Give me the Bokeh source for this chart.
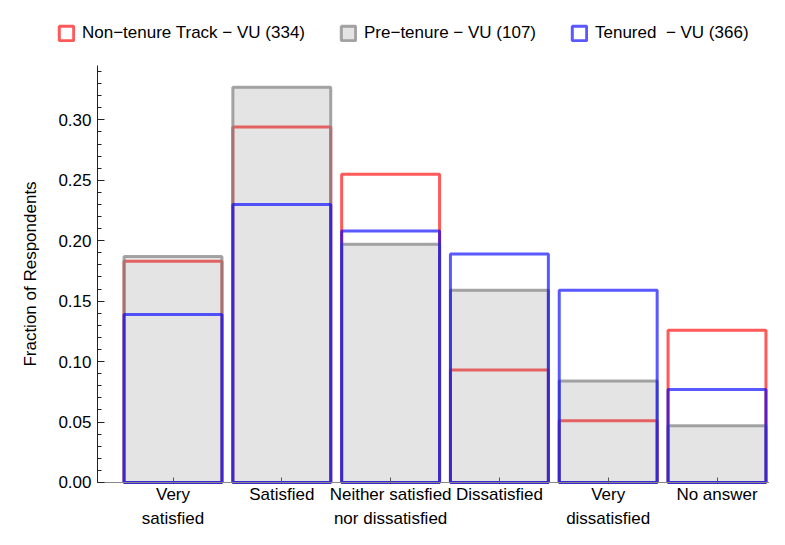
from bokeh.plotting import figure
from bokeh.models import (Range1d, Legend, LegendItem, FixedTicker,
                          NumeralTickFormatter, ColumnDataSource)
from bokeh.embed import file_html
from bokeh.resources import INLINE

categories = ["Very\nsatisfied", "Satisfied", "Neither satisfied\nnor dissatisfied",
              "Dissatisfied", "Very\ndissatisfied", "No answer"]
non_tenure = [0.183, 0.294, 0.255, 0.093, 0.051, 0.126]
pre_tenure = [0.187, 0.327, 0.197, 0.159, 0.084, 0.047]
tenured = [0.139, 0.230, 0.208, 0.189, 0.159, 0.077]
series_names = ["Non\u2212tenure Track \u2212 VU (334)",
                "Pre\u2212tenure \u2212 VU (107)",
                "Tenured  \u2212 VU (366)"]
y_ticks = [0.0, 0.05, 0.10, 0.15, 0.20, 0.25, 0.30]

xs = list(range(1, len(categories) + 1))
src = ColumnDataSource(dict(x=xs, nt=non_tenure, pt=pre_tenure, te=tenured))

FONT = "Liberation Sans"
FS = "17px"
W = 0.9
X0, X1 = -0.5855, 6.4825    # frame x range (frame spans the whole width)
XAX = 0.306                 # where the value axis sits
Y0, Y1 = -0.0389, 0.3855    # frame y range (frame spans down to the bottom)
YMAX_AXIS = 0.345

p = figure(width=769, height=529, output_backend="svg", toolbar_location=None,
           x_range=Range1d(X0, X1), y_range=Range1d(Y0, Y1),
           min_border_left=0, min_border_top=16, min_border_bottom=0,
           min_border_right=0)
p.outline_line_color = None
p.xgrid.grid_line_color = None
p.ygrid.grid_line_color = None

r_nt = p.vbar(x="x", top="nt", bottom=0, width=W, source=src,
              fill_alpha=0, line_color="#ff0000", line_alpha=0.65, line_width=3)
r_pt = p.vbar(x="x", top="pt", bottom=0, width=W, source=src,
              fill_color="#808080", fill_alpha=0.21,
              line_color="#808080", line_alpha=0.7, line_width=3)
r_te = p.vbar(x="x", top="te", bottom=0, width=W, source=src,
              fill_alpha=0, line_color="#0000ff", line_alpha=0.65, line_width=3)

xa = p.xaxis[0]
xa.fixed_location = 0
xa.bounds = (XAX, X1)
xa.ticker = FixedTicker(ticks=xs, minor_ticks=[])
xa.major_label_overrides = {x: c for x, c in zip(xs, categories)}
xa.major_tick_in = 5
xa.major_tick_out = 0
xa.major_tick_line_color = "#555555"
xa.minor_tick_line_color = None
xa.axis_line_color = "#888888"
xa.major_label_text_font = FONT
xa.major_label_text_font_size = FS
xa.major_label_text_color = "black"
xa.major_label_text_line_height = 1.25
xa.major_label_standoff = 3

ya = p.yaxis[0]
ya.fixed_location = XAX
ya.bounds = (0, YMAX_AXIS)
minor = [i / 100 for i in range(0, 35)]
ya.ticker = FixedTicker(ticks=y_ticks, minor_ticks=minor)
ya.formatter = NumeralTickFormatter(format="0.00")
ya.major_tick_in = 7
ya.major_tick_out = 0
ya.minor_tick_in = 4
ya.minor_tick_out = 0
ya.axis_line_color = "#222222"
ya.major_tick_line_color = "#222222"
ya.minor_tick_line_color = "#222222"
ya.major_label_text_font = FONT
ya.major_label_text_font_size = FS
ya.major_label_text_color = "black"
ya.major_label_standoff = 6
ya.axis_label = "Fraction of Respondents"
ya.axis_label_text_font = FONT
ya.axis_label_text_font_size = FS
ya.axis_label_text_font_style = "normal"
ya.axis_label_text_color = "black"
ya.axis_label_standoff = 15

legend = Legend(items=[LegendItem(label=series_names[0], renderers=[r_nt]),
                       LegendItem(label=series_names[1], renderers=[r_pt]),
                       LegendItem(label=series_names[2], renderers=[r_te])],
                orientation="horizontal", location=(57, 486),
                padding=0, margin=0, spacing=34, label_standoff=7,
                glyph_width=18, glyph_height=18, label_height=18,
                border_line_alpha=0, background_fill_alpha=0,
                label_text_font=FONT, label_text_font_size=FS,
                label_text_color="black")
p.add_layout(legend, "center")

open("out.html", "w").write(file_html(p, INLINE))
